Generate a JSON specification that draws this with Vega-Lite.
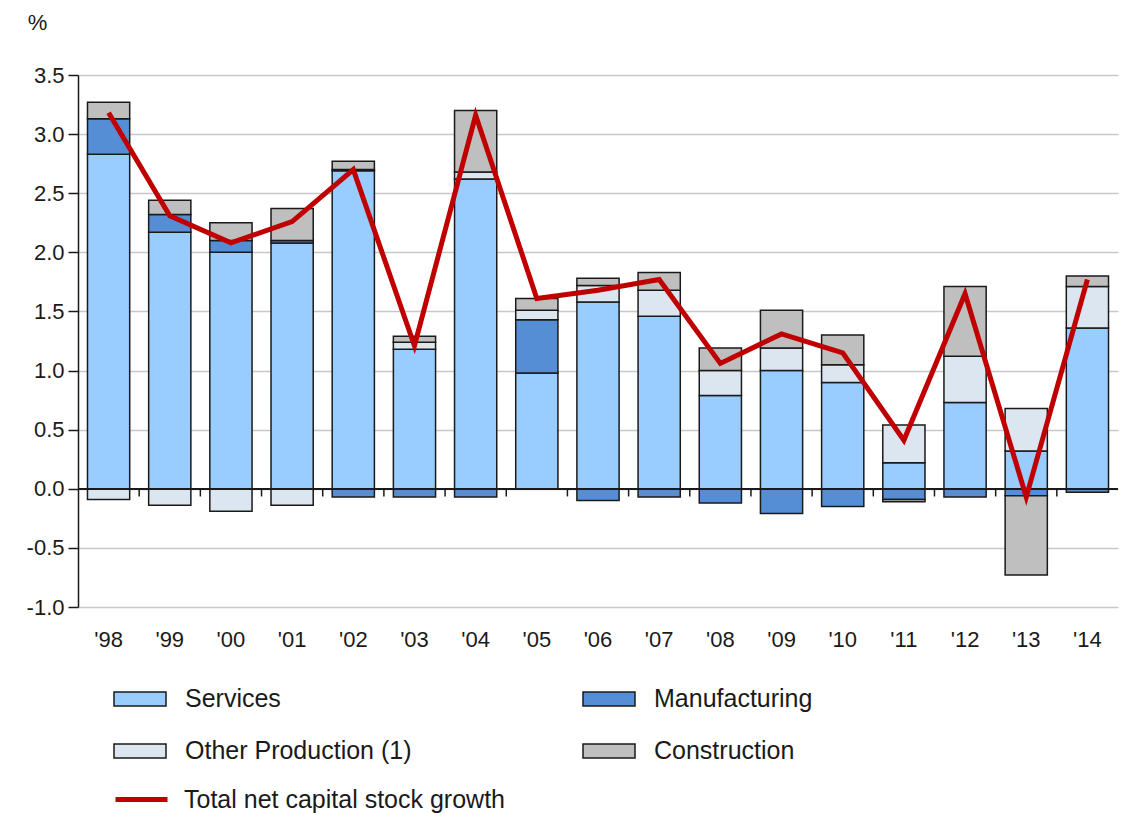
{
  "$schema": "https://vega.github.io/schema/vega-lite/v6.json",
  "width": 1040,
  "height": 532,
  "autosize": "none",
  "padding": {"left": 78, "top": 75, "right": 7, "bottom": 206},
  "background": "white",
  "config": {
    "font": "Liberation Sans",
    "view": {"stroke": null},
    "axis": {"labelFont": "Liberation Sans", "labelColor": "#1a1a1a", "titleColor": "#1a1a1a"}
  },
  "datasets": {
    "parts": [
      {"year": "'98", "sector": "Services", "ord": 1, "value": 2.83},
      {"year": "'98", "sector": "Manufacturing", "ord": 2, "value": 0.30},
      {"year": "'98", "sector": "Other Production (1)", "ord": 3, "value": -0.09},
      {"year": "'98", "sector": "Construction", "ord": 4, "value": 0.14},
      {"year": "'99", "sector": "Services", "ord": 1, "value": 2.17},
      {"year": "'99", "sector": "Manufacturing", "ord": 2, "value": 0.15},
      {"year": "'99", "sector": "Other Production (1)", "ord": 3, "value": -0.14},
      {"year": "'99", "sector": "Construction", "ord": 4, "value": 0.12},
      {"year": "'00", "sector": "Services", "ord": 1, "value": 2.00},
      {"year": "'00", "sector": "Manufacturing", "ord": 2, "value": 0.10},
      {"year": "'00", "sector": "Other Production (1)", "ord": 3, "value": -0.19},
      {"year": "'00", "sector": "Construction", "ord": 4, "value": 0.15},
      {"year": "'01", "sector": "Services", "ord": 1, "value": 2.08},
      {"year": "'01", "sector": "Manufacturing", "ord": 2, "value": 0.02},
      {"year": "'01", "sector": "Other Production (1)", "ord": 3, "value": -0.14},
      {"year": "'01", "sector": "Construction", "ord": 4, "value": 0.27},
      {"year": "'02", "sector": "Services", "ord": 1, "value": 2.69},
      {"year": "'02", "sector": "Manufacturing", "ord": 2, "value": -0.07},
      {"year": "'02", "sector": "Other Production (1)", "ord": 3, "value": 0.01},
      {"year": "'02", "sector": "Construction", "ord": 4, "value": 0.07},
      {"year": "'03", "sector": "Services", "ord": 1, "value": 1.18},
      {"year": "'03", "sector": "Manufacturing", "ord": 2, "value": -0.07},
      {"year": "'03", "sector": "Other Production (1)", "ord": 3, "value": 0.06},
      {"year": "'03", "sector": "Construction", "ord": 4, "value": 0.05},
      {"year": "'04", "sector": "Services", "ord": 1, "value": 2.62},
      {"year": "'04", "sector": "Manufacturing", "ord": 2, "value": -0.07},
      {"year": "'04", "sector": "Other Production (1)", "ord": 3, "value": 0.06},
      {"year": "'04", "sector": "Construction", "ord": 4, "value": 0.52},
      {"year": "'05", "sector": "Services", "ord": 1, "value": 0.98},
      {"year": "'05", "sector": "Manufacturing", "ord": 2, "value": 0.45},
      {"year": "'05", "sector": "Other Production (1)", "ord": 3, "value": 0.08},
      {"year": "'05", "sector": "Construction", "ord": 4, "value": 0.10},
      {"year": "'06", "sector": "Services", "ord": 1, "value": 1.58},
      {"year": "'06", "sector": "Manufacturing", "ord": 2, "value": -0.10},
      {"year": "'06", "sector": "Other Production (1)", "ord": 3, "value": 0.14},
      {"year": "'06", "sector": "Construction", "ord": 4, "value": 0.06},
      {"year": "'07", "sector": "Services", "ord": 1, "value": 1.46},
      {"year": "'07", "sector": "Manufacturing", "ord": 2, "value": -0.07},
      {"year": "'07", "sector": "Other Production (1)", "ord": 3, "value": 0.22},
      {"year": "'07", "sector": "Construction", "ord": 4, "value": 0.15},
      {"year": "'08", "sector": "Services", "ord": 1, "value": 0.79},
      {"year": "'08", "sector": "Manufacturing", "ord": 2, "value": -0.12},
      {"year": "'08", "sector": "Other Production (1)", "ord": 3, "value": 0.21},
      {"year": "'08", "sector": "Construction", "ord": 4, "value": 0.19},
      {"year": "'09", "sector": "Services", "ord": 1, "value": 1.00},
      {"year": "'09", "sector": "Manufacturing", "ord": 2, "value": -0.21},
      {"year": "'09", "sector": "Other Production (1)", "ord": 3, "value": 0.19},
      {"year": "'09", "sector": "Construction", "ord": 4, "value": 0.32},
      {"year": "'10", "sector": "Services", "ord": 1, "value": 0.90},
      {"year": "'10", "sector": "Manufacturing", "ord": 2, "value": -0.15},
      {"year": "'10", "sector": "Other Production (1)", "ord": 3, "value": 0.15},
      {"year": "'10", "sector": "Construction", "ord": 4, "value": 0.25},
      {"year": "'11", "sector": "Services", "ord": 1, "value": 0.22},
      {"year": "'11", "sector": "Manufacturing", "ord": 2, "value": -0.09},
      {"year": "'11", "sector": "Other Production (1)", "ord": 3, "value": 0.32},
      {"year": "'11", "sector": "Construction", "ord": 4, "value": -0.02},
      {"year": "'12", "sector": "Services", "ord": 1, "value": 0.73},
      {"year": "'12", "sector": "Manufacturing", "ord": 2, "value": -0.07},
      {"year": "'12", "sector": "Other Production (1)", "ord": 3, "value": 0.39},
      {"year": "'12", "sector": "Construction", "ord": 4, "value": 0.59},
      {"year": "'13", "sector": "Services", "ord": 1, "value": 0.32},
      {"year": "'13", "sector": "Manufacturing", "ord": 2, "value": -0.06},
      {"year": "'13", "sector": "Other Production (1)", "ord": 3, "value": 0.36},
      {"year": "'13", "sector": "Construction", "ord": 4, "value": -0.67},
      {"year": "'14", "sector": "Services", "ord": 1, "value": 1.36},
      {"year": "'14", "sector": "Manufacturing", "ord": 2, "value": -0.03},
      {"year": "'14", "sector": "Other Production (1)", "ord": 3, "value": 0.35},
      {"year": "'14", "sector": "Construction", "ord": 4, "value": 0.09}
    ],
    "totals": [
      {"year": "'98", "series": "Total net capital stock growth", "total": 3.18},
      {"year": "'99", "series": "Total net capital stock growth", "total": 2.31},
      {"year": "'00", "series": "Total net capital stock growth", "total": 2.08},
      {"year": "'01", "series": "Total net capital stock growth", "total": 2.26},
      {"year": "'02", "series": "Total net capital stock growth", "total": 2.70},
      {"year": "'03", "series": "Total net capital stock growth", "total": 1.21},
      {"year": "'04", "series": "Total net capital stock growth", "total": 3.16},
      {"year": "'05", "series": "Total net capital stock growth", "total": 1.61},
      {"year": "'06", "series": "Total net capital stock growth", "total": 1.68},
      {"year": "'07", "series": "Total net capital stock growth", "total": 1.77},
      {"year": "'08", "series": "Total net capital stock growth", "total": 1.06},
      {"year": "'09", "series": "Total net capital stock growth", "total": 1.31},
      {"year": "'10", "series": "Total net capital stock growth", "total": 1.15},
      {"year": "'11", "series": "Total net capital stock growth", "total": 0.41},
      {"year": "'12", "series": "Total net capital stock growth", "total": 1.65},
      {"year": "'13", "series": "Total net capital stock growth", "total": -0.07},
      {"year": "'14", "series": "Total net capital stock growth", "total": 1.77}
    ]
  },
  "encoding": {
    "x": {
      "field": "year",
      "type": "ordinal",
      "scale": {
        "domain": ["'98", "'99", "'00", "'01", "'02", "'03", "'04", "'05", "'06", "'07", "'08", "'09", "'10", "'11", "'12", "'13", "'14"],
        "paddingInner": 0.31,
        "paddingOuter": 0.155
      },
      "axis": {
        "title": null,
        "orient": "bottom",
        "domain": false,
        "ticks": false,
        "labelAngle": 0,
        "labelFontSize": 22,
        "labelPadding": 22
      }
    }
  },
  "layer": [
    {
      "data": {"name": "parts"},
      "mark": {"type": "bar", "stroke": "#1a1a1a", "strokeWidth": 1.5},
      "encoding": {
        "y": {
          "field": "value",
          "type": "quantitative",
          "stack": "zero",
          "scale": {"domain": [-1, 3.5], "nice": false},
          "axis": {
            "title": "%",
            "titleAngle": 0,
            "titleFontSize": 22,
            "titleFontWeight": "normal",
            "titleAlign": "center",
            "titleBaseline": "middle",
            "titleX": -41,
            "titleY": -53,
            "values": [-1, -0.5, 0, 0.5, 1, 1.5, 2, 2.5, 3, 3.5],
            "labelExpr": "replace(format(datum.value, '.1f'), '\u2212', '-')",
            "labelFontSize": 22,
            "labelPadding": 4,
            "tickSize": 10,
            "tickColor": "#1a1a1a",
            "tickWidth": 1.5,
            "domainColor": "#1a1a1a",
            "domainWidth": 1.5,
            "gridColor": "#c8c8c8",
            "gridWidth": 1.5
          }
        },
        "fill": {
          "field": "sector",
          "type": "nominal",
          "scale": {
            "domain": ["Services", "Manufacturing", "Other Production (1)", "Construction"],
            "range": ["#99ccff", "#558ed5", "#dce6f1", "#bfbfbf"]
          },
          "legend": {
            "title": null,
            "orient": "none",
            "direction": "horizontal",
            "legendX": 35,
            "legendY": 597,
            "columns": 2,
            "columnPadding": 168,
            "rowPadding": 12,
            "symbolType": "M-1,-0.27H1V0.27H-1Z",
            "symbolSize": 2704,
            "symbolStrokeColor": "#1a1a1a",
            "symbolStrokeWidth": 1.5,
            "labelFontSize": 25,
            "labelColor": "#1a1a1a",
            "labelOffset": 18,
            "labelLimit": 500
          }
        },
        "order": {"field": "ord", "type": "quantitative"}
      }
    },
    {
      "data": {"name": "totals"},
      "transform": [{"filter": "datum.year !== \"'14\""}],
      "mark": {"type": "rule", "xOffset": 30.6, "stroke": "#1a1a1a", "strokeWidth": 1.5},
      "encoding": {
        "y": {"datum": 0},
        "y2": {"datum": -0.065}
      }
    },
    {
      "data": {"name": "totals"},
      "mark": {"type": "rule", "stroke": "#1a1a1a", "strokeWidth": 1.5},
      "encoding": {
        "x": null,
        "y": {"datum": 0}
      }
    },
    {
      "data": {"name": "totals"},
      "mark": {"type": "line", "strokeWidth": 5, "strokeJoin": "miter"},
      "encoding": {
        "y": {"field": "total", "type": "quantitative"},
        "stroke": {
          "field": "series",
          "type": "nominal",
          "scale": {"range": ["#c00000"]},
          "legend": {
            "title": null,
            "orient": "none",
            "legendX": 35,
            "legendY": 696,
            "symbolType": "stroke",
            "symbolSize": 2704,
            "symbolStrokeWidth": 5,
            "labelFontSize": 25,
            "labelColor": "#1a1a1a",
            "labelOffset": 14,
            "labelLimit": 500
          }
        }
      }
    }
  ]
}
